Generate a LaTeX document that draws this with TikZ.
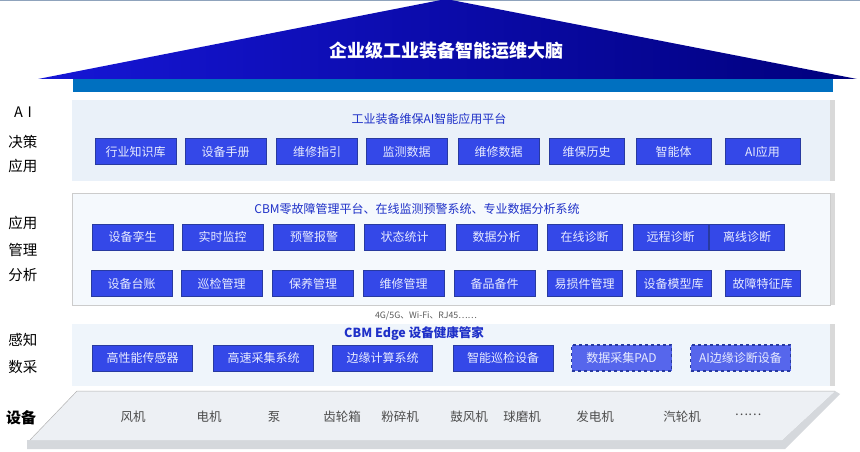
\documentclass[tikz,border=0pt]{standalone}
\usepackage{fontspec}
\setmainfont{Noto Sans CJK SC}
\usetikzlibrary{positioning}
\definecolor{boxblue}{RGB}{52,72,232}
\definecolor{boxedge}{RGB}{40,58,160}
\definecolor{boxtext}{RGB}{232,236,255}
\definecolor{padblue}{RGB}{86,102,236}
\definecolor{titleblue}{RGB}{30,48,200}
\definecolor{bandblue}{RGB}{0,112,192}
\definecolor{panelA}{RGB}{234,241,249}
\definecolor{panelB}{RGB}{245,249,253}
\definecolor{panelC}{RGB}{239,245,251}
\definecolor{shadowgray}{RGB}{217,217,217}
\definecolor{slabtop}{RGB}{237,240,244}
\definecolor{slabside}{RGB}{213,216,220}
\tikzset{
  module/.style={draw=boxedge, fill=boxblue, text=boxtext, line width=0.8pt,
    inner sep=0pt, minimum height=26pt, font=\fontsize{12}{14}\selectfont},
  padbox/.style={module, fill=padblue, dashed, line width=1.1pt},
  wide/.style={minimum width=81pt},
  narrow/.style={minimum width=75pt},
  long/.style={minimum width=100pt},
  layer/.style={inner sep=0pt, minimum width=758pt},
  layertitle/.style={text=titleblue, inner sep=0pt, font=\fontsize{12}{14}\selectfont},
  sidelabel/.style={inner sep=0pt, font=\fontsize{14.5}{16}\selectfont},
  devname/.style={inner sep=0pt, text=black!70, font=\fontsize{12.5}{14}\selectfont},
}

\begin{document}
\begin{tikzpicture}[x=1pt, y=-1pt]
  \useasboundingbox (0,0) rectangle (860,452);
  \draw[line width=1.5pt, color={rgb,255:red,143;green,163;blue,188}] (0,0.75) -- (860,0.75);

  % roof
  \shade[left color={rgb,255:red,22;green,22;blue,214}, right color={rgb,255:red,0;green,0;blue,125}]
    (446,-1) -- (857,79) -- (38,79) -- cycle;
  \fill[bandblue] (73,79) rectangle (833,92);
  \node[text=white, inner sep=0pt, font=\fontsize{18}{20}\selectfont\bfseries] (brain) at (446,51) {企业级工业装备智能运维大脑};

  % AI layer
  \fill[shadowgray] (830,100) rectangle (835,181);
  \node[layer, fill=panelA, minimum height=81pt] (ailayer) at (451,140.5) {};
  \node[layertitle] (aititle) at (429,119) {工业装备维保AI智能应用平台};
  \node[module, wide]   (zsk)  at (135.5,151.5) {行业知识库};
  \node[module, wide]   (sbsc) at (225.5,151.5) {设备手册};
  \node[module, wide]   (wxzy) at (317,151.5)   {维修指引};
  \node[module, wide]   (jcsj) at (406.5,151.5) {监测数据};
  \node[module, wide]   (wxsj) at (498.5,151.5) {维修数据};
  \node[module, narrow] (wbls) at (586.5,151.5) {维保历史};
  \node[module, narrow] (znt)  at (673.5,151.5) {智能体};
  \node[module, narrow] (aiyy) at (762.5,151.5) {AI应用};
  \node[sidelabel] (lai)  at (23,112) {A\,\,I};
  \node[sidelabel] (ljc)  at (23,142) {决策};
  \node[sidelabel] (lyy1) at (23,166) {应用};

  % CBM layer
  \fill[shadowgray] (830,193) rectangle (835,305);
  \node[layer, fill=panelB, draw=black!20, line width=0.5pt, minimum height=112pt] (cbmlayer) at (451,249) {};
  \node[layertitle] (cbmtitle) at (417,209) {CBM零故障管理平台、在线监测预警系统、专业数据分析系统};
  \node[module, wide]   (sbls) at (132.5,237) {设备孪生};
  \node[module, wide]   (ssjk) at (222.5,237) {实时监控};
  \node[module, wide]   (yjbj) at (314,237)   {预警报警};
  \node[module, wide]   (zttj) at (404.5,237) {状态统计};
  \node[module, wide]   (sjfx) at (496.5,237) {数据分析};
  \node[module, narrow] (zxzd) at (584.5,237) {在线诊断};
  \node[module, narrow] (yczd) at (670.5,237) {远程诊断};
  \node[module, narrow] (lxzd) at (747,237)   {离线诊断};
  \node[module, wide]   (sbtz) at (131.5,283.5) {设备台账};
  \node[module, wide]   (xjgl) at (221.5,283.5) {巡检管理};
  \node[module, wide]   (bygl) at (313,283.5)   {保养管理};
  \node[module, wide]   (wxgl) at (403.5,283.5) {维修管理};
  \node[module, wide]   (bpbj) at (494.5,283.5) {备品备件};
  \node[module, narrow] (ysj)  at (584.5,283.5) {易损件管理};
  \node[module, narrow] (mxk)  at (673.5,283.5) {设备模型库};
  \node[module, narrow] (tzk)  at (762.5,283.5) {故障特征库};
  \node[sidelabel] (lyy2) at (23,223) {应用};
  \node[sidelabel] (lgl)  at (23,250) {管理};
  \node[sidelabel] (lfx)  at (23,275) {分析};

  \node[inner sep=0pt, text=black!65, font=\fontsize{8.8}{10}\selectfont] (net) at (426,316) {4G/5G、Wi-Fi、RJ45……};

  % edge layer
  \fill[shadowgray] (830,324) rectangle (835,386);
  \node[layer, fill=panelC, minimum height=62pt] (edgelayer) at (451,355) {};
  \node[layertitle, font=\fontsize{12.5}{14}\selectfont\bfseries] (edgetitle) at (414,334) {CBM Edge 设备健康管家};
  \node[module, long] (cgq)  at (142.5,358) {高性能传感器};
  \node[module, long] (gscj) at (263.5,358) {高速采集系统};
  \node[module, long] (byjs) at (382.5,358) {边缘计算系统};
  \node[module, long] (znxj) at (503,358)   {智能巡检设备};
  \node[padbox, long] (pad)  at (621.5,358) {数据采集PAD};
  \node[padbox, long] (aizd) at (740.5,358) {AI边缘诊断设备};
  \node[sidelabel] (lgz) at (23,340) {感知};
  \node[sidelabel] (lsc) at (23,367) {数采};

  % equipment slab
  \fill[slabside] (27,440) -- (782,440) -- (835,391) -- (840,394) -- (785,449) -- (27,449) -- cycle;
  \fill[slabtop] (77,391) -- (835,391) -- (782,440) -- (30,440) -- cycle;
  \draw[black!30, line width=0.5pt] (30,440) -- (77,391) -- (835,391);
  \node[sidelabel, font=\fontsize{15}{16}\selectfont\bfseries] (lsb) at (21,418) {设备};
  \node[devname] (fj)   at (133,417) {风机};
  \node[devname] (dj)   at (209,417) {电机};
  \node[devname] (beng) at (274,417) {泵};
  \node[devname] (clx)  at (342,417) {齿轮箱};
  \node[devname] (fsj)  at (400,417) {粉碎机};
  \node[devname] (gfj)  at (469,417) {鼓风机};
  \node[devname] (qmj)  at (522,417) {球磨机};
  \node[devname] (fdj)  at (595,417) {发电机};
  \node[devname] (qlj)  at (682,417) {汽轮机};
  \node[devname] (more) at (748,415) {……};
\end{tikzpicture}
\end{document}
